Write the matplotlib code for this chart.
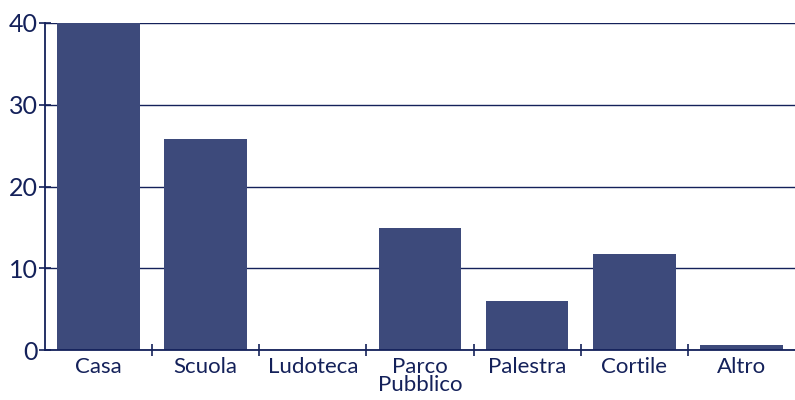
import matplotlib.pyplot as plt

categories = ["Casa", "Scuola", "Ludoteca", "Parco\nPubblico", "Palestra", "Cortile", "Altro"]
values = [40, 25.8, 0, 14.9, 6, 11.8, 0.6]
y_ticks = [0, 10, 20, 30, 40]

navy = "#14215a"
bar_color = "#3d4a7b"

plt.rcParams['font.family'] = ['Lato', 'DejaVu Sans']

fig = plt.figure(figsize=(7.95, 4.0), dpi=100)
ax = fig.add_axes([45/795, 50/400, 750/795, 327/400])

ax.bar(range(len(categories)), values, width=0.77, color=bar_color, zorder=3)

ax.set_xlim(-0.5, len(categories) - 0.5)
ax.set_ylim(0, 40)
ax.set_yticks(y_ticks)
ax.set_xticks(range(len(categories)))
ax.set_xticklabels(categories, fontsize=16, color=navy, linespacing=0.9)
ax.tick_params(axis='x', length=0, pad=5)
ax.set_xticks([i + 0.5 for i in range(len(categories) - 1)], minor=True)
ax.tick_params(axis='x', which='minor', direction='inout', length=8, width=1.2, color=navy)
ax.tick_params(axis='y', direction='inout', length=8, width=1.2, color=navy,
               labelsize=18, labelcolor=navy, pad=1)

ax.grid(axis='y', color=navy, linewidth=1.0, zorder=0)

for s in ['top', 'right']:
    ax.spines[s].set_visible(False)
for s in ['left', 'bottom']:
    ax.spines[s].set_color(navy)
    ax.spines[s].set_linewidth(1.3)
    ax.spines[s].set_zorder(4)

fig.savefig("out.png", dpi=100)
